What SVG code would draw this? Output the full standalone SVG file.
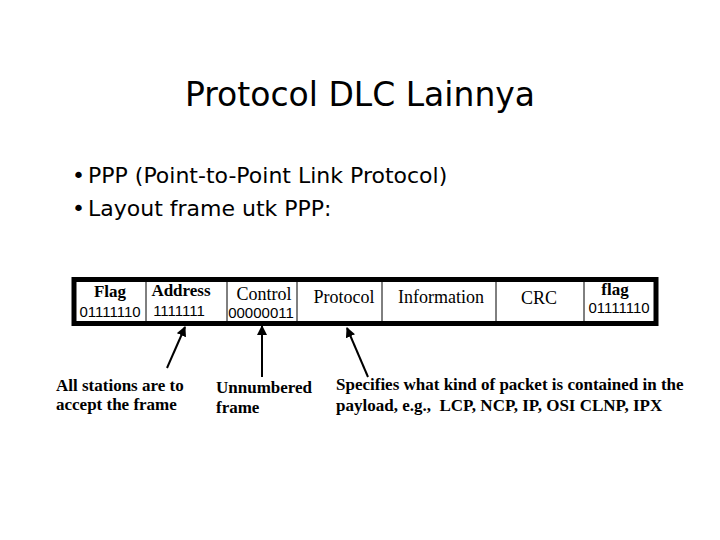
<svg xmlns="http://www.w3.org/2000/svg" width="720" height="540" viewBox="0 0 720 540">
<style>
.title{font-family:"DejaVu Sans",sans-serif;font-size:33px;fill:#000}
.bul{font-family:"DejaVu Sans",sans-serif;font-size:22px;fill:#000}
.f{font-family:"Liberation Serif","Times New Roman",serif;font-size:18px;fill:#000}
.fb{font-family:"Liberation Serif","Times New Roman",serif;font-size:17px;font-weight:bold;fill:#000}
.num{font-family:"Liberation Sans",Arial,sans-serif;font-size:15px;fill:#000}
.lbl{font-family:"Liberation Serif","Times New Roman",serif;font-size:17px;font-weight:bold;fill:#000;white-space:pre}
.div{stroke:#000;stroke-width:1}
.arr{stroke:#000;stroke-width:2;fill:none;marker-end:url(#ah)}
</style>
<defs>
<marker id="ah" viewBox="0 0 10 10" refX="9" refY="5" markerWidth="5" markerHeight="5" orient="auto" markerUnits="strokeWidth">
<path d="M0,0 L10,5 L0,10 z" fill="#000"/>
</marker>
</defs>
<rect width="720" height="540" fill="#fff"/>
<g id="title"><text class="title" x="360" y="106" text-anchor="middle">Protocol DLC Lainnya</text></g>
<g id="bullets">
<text class="bul" x="72" y="183">•</text>
<text class="bul" x="88" y="183">PPP (Point-to-Point Link Protocol)</text>
<text class="bul" x="72" y="216">•</text>
<text class="bul" x="88" y="216">Layout frame utk PPP:</text>
</g>
<g id="frame">
<rect x="74" y="279.5" width="582" height="44" fill="#fff" stroke="#000" stroke-width="5"/>
<line class="div" x1="146" y1="282" x2="146" y2="321"/>
<line class="div" x1="227" y1="282" x2="227" y2="321"/>
<line class="div" x1="297" y1="282" x2="297" y2="321"/>
<line class="div" x1="382" y1="282" x2="382" y2="321"/>
<line class="div" x1="496" y1="282" x2="496" y2="321"/>
<line class="div" x1="584" y1="282" x2="584" y2="321"/>
</g>
<g id="field-flag"><text class="fb" x="110" y="297" text-anchor="middle">Flag</text><text class="num" x="110" y="317" text-anchor="middle">01111110</text></g>
<g id="field-address"><text class="fb" x="181" y="296" text-anchor="middle">Address</text><text class="num" x="179" y="316" text-anchor="middle" font-size="14">1111111</text></g>
<g id="field-control"><text class="f" x="264" y="300" text-anchor="middle">Control</text><text class="num" x="261" y="318" text-anchor="middle">00000011</text></g>
<g id="field-protocol"><text class="f" x="344" y="303" text-anchor="middle">Protocol</text></g>
<g id="field-information"><text class="f" x="441" y="303" text-anchor="middle">Information</text></g>
<g id="field-crc"><text class="f" x="539" y="304" text-anchor="middle">CRC</text></g>
<g id="field-flag2"><text class="fb" x="615" y="295" text-anchor="middle" font-size="16">flag</text><text class="num" x="619" y="313" text-anchor="middle">01111110</text></g>
<g id="connectors">
<line class="arr" x1="167" y1="368" x2="185" y2="327"/>
<line class="arr" x1="262" y1="377" x2="262" y2="326"/>
<line class="arr" x1="368" y1="377" x2="347" y2="328"/>
</g>
<g id="label-address"><text class="lbl" x="56" y="391">All stations are to</text><text class="lbl" x="56" y="410">accept the frame</text></g>
<g id="label-control"><text class="lbl" x="216" y="393">Unnumbered</text><text class="lbl" x="216" y="413">frame</text></g>
<g id="label-protocol"><text class="lbl" x="336" y="390">Specifies what kind of packet is contained in the</text><text class="lbl" x="336" y="411">payload, e.g.,  LCP, NCP, IP, OSI CLNP, IPX</text></g>
</svg>
